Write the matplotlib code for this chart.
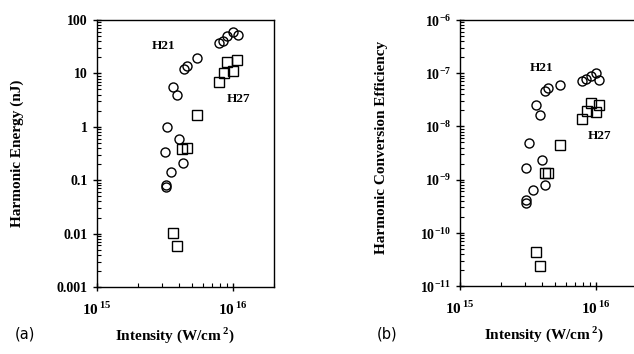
import matplotlib
matplotlib.use("Agg")
import matplotlib.pyplot as plt
import numpy as np
from matplotlib.ticker import LogLocator, FixedLocator, NullFormatter

plt.rcParams['font.family'] = 'Liberation Serif'
plt.rcParams['font.weight'] = 'bold'
plt.rcParams['axes.labelweight'] = 'bold'
plt.rcParams['mathtext.fontset'] = 'custom'
plt.rcParams['mathtext.rm'] = 'Liberation Serif:bold'
plt.rcParams['mathtext.bf'] = 'Liberation Serif:bold'

# panel (a): harmonic energy (nJ) vs intensity (W/cm^2)
h21_int_a = [3.2e15, 3.2e15, 3.15e15, 3.26e15, 3.5e15, 3.65e15, 3.85e15, 4.04e15, 4.27e15,
             4.33e15, 4.56e15, 5.43e15, 7.94e15, 8.41e15, 9.1e15, 9.95e15, 1.08e16]
h21_energy = [0.076, 0.082, 0.335, 1.0, 0.14, 5.5, 3.9, 0.6, 0.21,
              12.2, 14.0, 19.5, 37, 41, 50, 60, 53]
h27_int_a = [3.65e15, 3.85e15, 4.2e15, 4.56e15, 5.43e15, 7.94e15, 8.55e15, 9.1e15, 9.95e15, 1.07e16]
h27_energy = [0.0102, 0.0059, 0.38, 0.40, 1.65, 7.0, 10.2, 16.2, 10.9, 18.0]

# panel (b): conversion efficiency vs intensity
h21_int_b = [3.08e15, 3.08e15, 3.08e15, 3.21e15, 3.44e15, 3.64e15, 3.85e15, 3.98e15, 4.24e15,
             4.19e15, 4.43e15, 5.4e15, 7.94e15, 8.45e15, 9.14e15, 1.0e16, 1.05e16]
h21_eff = [3.6e-10, 4.1e-10, 1.65e-9, 4.9e-9, 6.4e-10, 2.5e-8, 1.64e-8, 2.35e-9, 7.8e-10,
           4.7e-8, 5.3e-8, 5.9e-8, 7.2e-8, 7.9e-8, 8.7e-8, 1.0e-7, 7.4e-8]
h27_int_b = [3.64e15, 3.85e15, 4.19e15, 4.43e15, 5.46e15, 7.94e15, 8.55e15, 9.25e15, 1.0e16, 1.06e16]
h27_eff = [4.3e-11, 2.4e-11, 1.31e-9, 1.31e-9, 4.4e-9, 1.38e-8, 1.98e-8, 2.75e-8, 1.84e-8, 2.5e-8]

x_ticks = [1e15, 1e16]
x_ticklabels = ['$10^{\\,15}$', '$10^{\\,16}$']
ya_ticks = [1e-3, 1e-2, 1e-1, 1, 10, 100]
ya_ticklabels = ['0.001', '0.01', '0.1', '1', '10', '100']
yb_ticks = [1e-11, 1e-10, 1e-9, 1e-8, 1e-7, 1e-6]
yb_ticklabels = ['$10^{-11}$', '$10^{-10}$', '$10^{-9}$', '$10^{-8}$', '$10^{-7}$', '$10^{-6}$']

fig = plt.figure(figsize=(6.34, 3.54), dpi=100)
ax1 = fig.add_axes([97 / 634, 1 - 287 / 354, 177 / 634, 267 / 354])
ax2 = fig.add_axes([460 / 634, 1 - 286 / 354, 177 / 634, 266 / 354])

mk = dict(linestyle='none', markersize=6.5, markerfacecolor='none',
          markeredgecolor='black', markeredgewidth=1.0)

for ax in (ax1, ax2):
    ax.set_xscale('log')
    ax.set_yscale('log')
    ax.set_xlim(1e15, 2e16)
    ax.xaxis.set_major_locator(FixedLocator(x_ticks))
    ax.set_xticklabels(x_ticklabels)
    ax.xaxis.set_minor_locator(LogLocator(base=10, subs=np.arange(2, 10)))
    ax.xaxis.set_minor_formatter(NullFormatter())
    ax.yaxis.set_minor_locator(LogLocator(base=10, subs=np.arange(2, 10), numticks=20))
    ax.yaxis.set_minor_formatter(NullFormatter())
    ax.tick_params(which='major', direction='inout', length=6, width=1.0,
                   labelsize=10, top=False, right=False)
    ax.tick_params(which='minor', direction='in', length=3, width=0.8,
                   top=False, right=False)
    ax.tick_params(axis='x', which='major', pad=7, labelsize=11)
    for s in ax.spines.values():
        s.set_linewidth(1.0)
    ax.set_xlabel('Intensity (W/cm$^{\\,2}$)', fontsize=11)

ax1.plot(h21_int_a, h21_energy, marker='o', **mk)
ax1.plot(h27_int_a, h27_energy, marker='s', **mk)
ax1.set_ylim(1e-3, 100)
ax1.set_yticks(ya_ticks)
ax1.set_yticklabels(ya_ticklabels)
ax1.set_ylabel('Harmonic Energy (nJ)', fontsize=11)
ax1.yaxis.set_label_coords(-0.41, 0.5)
ax1.xaxis.set_label_coords(0.44, -0.145)
ax1.text(3.1e15, 32, 'H21', fontsize=9.5, ha='center', va='center')
ax1.text(1.09e16, 3.3, 'H27', fontsize=9.5, ha='center', va='center')

ax2.plot(h21_int_b, h21_eff, marker='o', **mk)
ax2.plot(h27_int_b, h27_eff, marker='s', **mk)
ax2.set_ylim(1e-11, 1e-6)
ax2.set_yticks(yb_ticks)
ax2.set_yticklabels(yb_ticklabels)
ax2.set_ylabel('Harmonic Conversion Efficiency', fontsize=11)
ax2.yaxis.set_label_coords(-0.405, 0.52)
ax2.xaxis.set_label_coords(0.475, -0.145)
ax2.text(4.0e15, 1.23e-7, 'H21', fontsize=9.5, ha='center', va='center')
ax2.text(1.07e16, 6.5e-9, 'H27', fontsize=9.5, ha='center', va='center')

fig.text(25 / 634, 1 - 334 / 354, '(a)', fontsize=10.5, family='DejaVu Sans',
         weight='normal', ha='center', va='center')
fig.text(387 / 634, 1 - 334 / 354, '(b)', fontsize=10.5, family='DejaVu Sans',
         weight='normal', ha='center', va='center')

fig.savefig('out.png', dpi=100)
